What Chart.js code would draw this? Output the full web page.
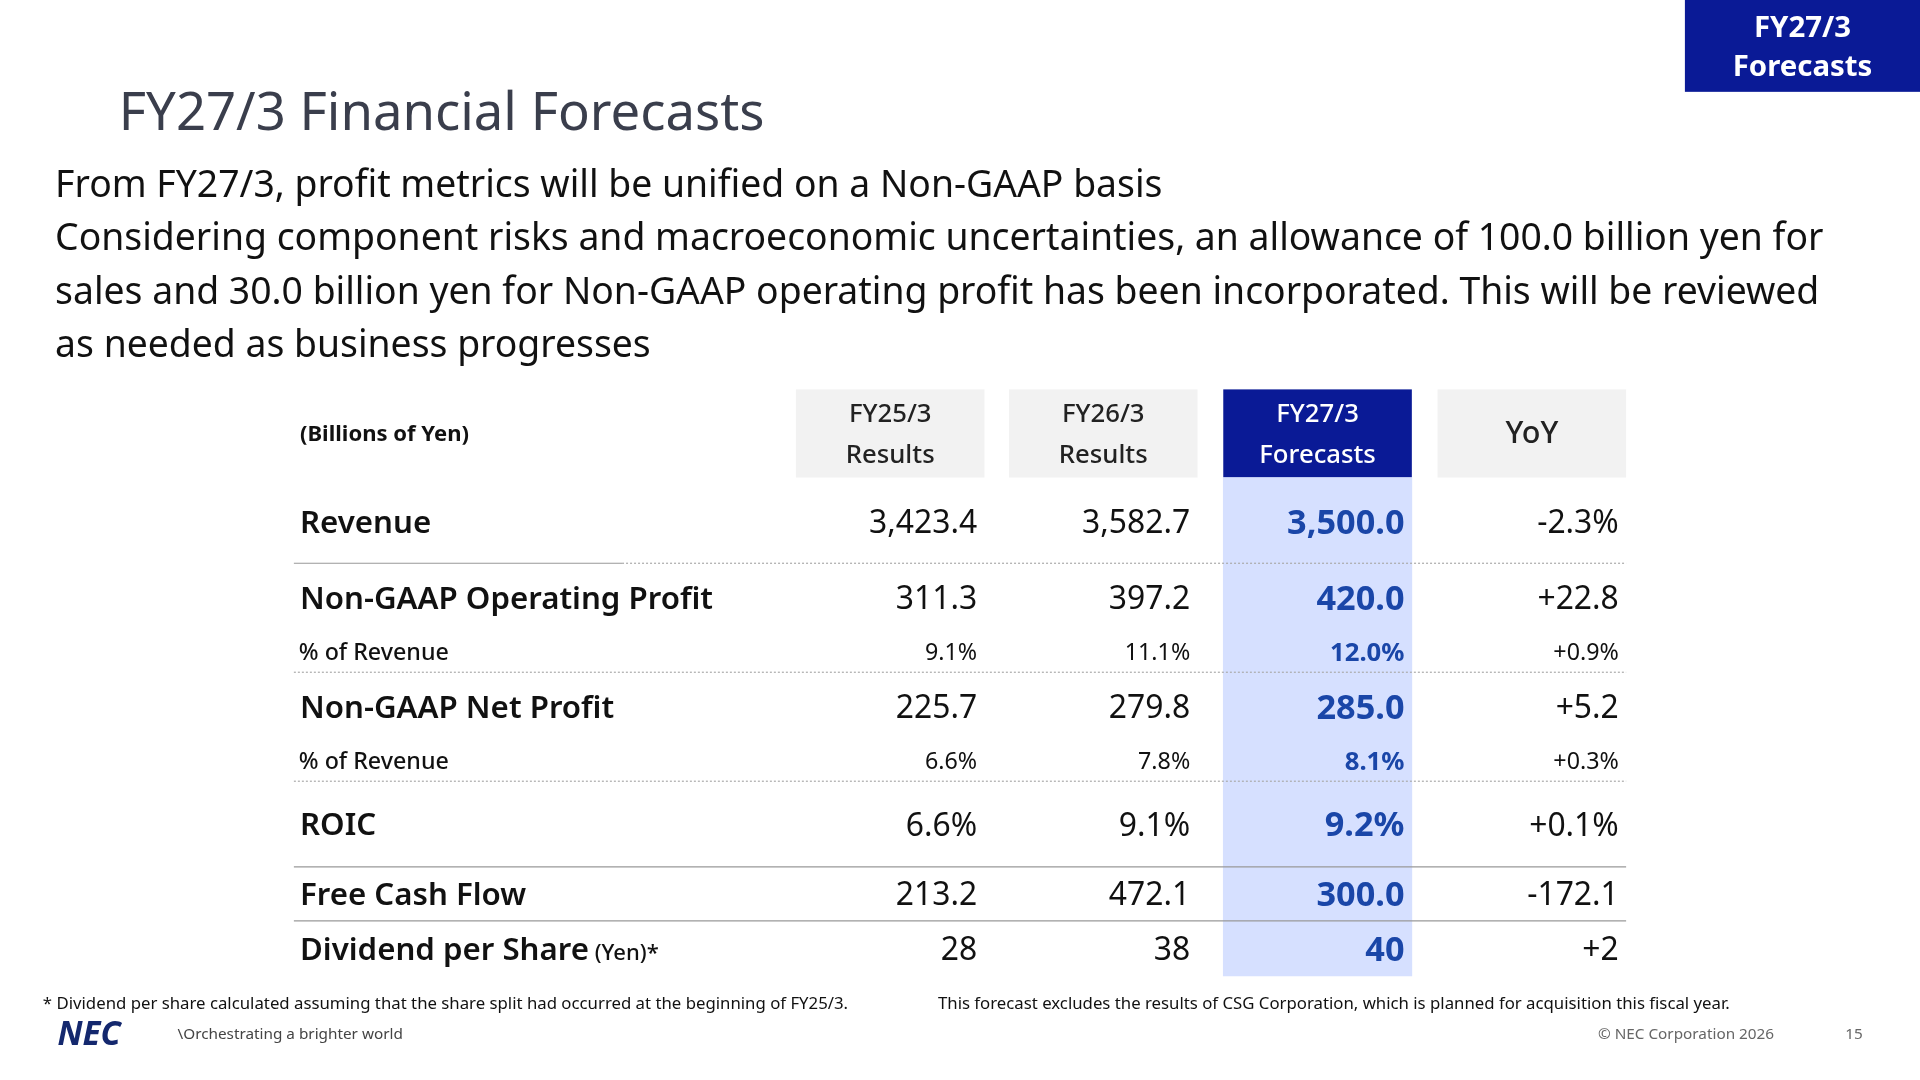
<!DOCTYPE html><html><head><meta charset="utf-8">
<script src="https://cdn.jsdelivr.net/npm/chart.js@4"></script>
<style>html,body{margin:0;padding:0;background:#fff;overflow:hidden}#w{width:1920px;height:1080px}</style></head>
<body><div id="w"><canvas id="c"></canvas></div>
<script>
const columns=['FY25/3\nResults','FY26/3\nResults','FY27/3\nForecasts','YoY'];
const rowLabels=['Revenue','Non-GAAP Operating Profit','% of Revenue','Non-GAAP Net Profit','% of Revenue','ROIC','Free Cash Flow','Dividend per Share'];
const fy25=['3,423.4','311.3','9.1%','225.7','6.6%','6.6%','213.2','28'];
const fy26=['3,582.7','397.2','11.1%','279.8','7.8%','9.1%','472.1','38'];
const fy27=['3,500.0','420.0','12.0%','285.0','8.1%','9.2%','300.0','40'];
const yoy=['-2.3%','+22.8','+0.9%','+5.2','+0.3%','+0.1%','-172.1','+2'];

// layout (reference units 1568x882)
const S=1920/1568;
const colL=[650,824,999,1174], colW=154;
const rowY=[428,490,534,579,623,675,732,777];
const small=[false,false,true,false,true,false,false,false];
const F='"Noto Sans", sans-serif';
const plugin={id:'tbl',beforeDatasetsDraw(ch){
  const c=ch.ctx,x=ch.scales.x,y=ch.scales.y;
  const X=v=>x.getPixelForValue(v),Y=v=>y.getPixelForValue(v);
  c.save();
  const font=(w,s)=>c.font=w+' '+(s*S)+'px '+F;
  c.fillStyle='#0a1a96';c.fillRect(X(1376),Y(0),X(1568)-X(1376),Y(75)-Y(0));
  c.fillStyle='#fff';font('bold',24);c.textAlign='center';c.textBaseline='middle';
  c.fillText('FY27/3',X(1472),Y(23));c.fillText('Forecasts',X(1472),Y(55));
  c.textAlign='left';c.textBaseline='alphabetic';
  c.fillStyle='#3a3e4c';font('normal',43);c.fillText('FY27/3 Financial Forecasts',X(97),Y(106));
  c.fillStyle='#111';font('normal',30.5);
  ['From FY27/3, profit metrics will be unified on a Non-GAAP basis',
   'Considering component risks and macroeconomic uncertainties, an allowance of 100.0 billion yen for',
   'sales and 30.0 billion yen for Non-GAAP operating profit has been incorporated. This will be reviewed',
   'as needed as business progresses'].forEach((t,i)=>c.fillText(t,X(45),Y(161+i*43.5)));
  columns.forEach((h,i)=>{c.fillStyle=i==2?'#0a1a96':'#f2f2f2';c.fillRect(X(colL[i]),Y(318),X(colL[i]+colW)-X(colL[i]),Y(390)-Y(318));
    c.fillStyle=i==2?'#fff':'#222';c.textAlign='center';c.textBaseline='middle';
    const p=h.split('\n');
    if(p.length>1){font('500',21);c.fillText(p[0],X(colL[i]+colW/2),Y(339));c.fillText(p[1],X(colL[i]+colW/2),Y(372));}
    else{font('500',25);c.fillText(p[0],X(colL[i]+colW/2),Y(355));}
  });
  c.textAlign='left';c.fillStyle='#111';font('bold',18);c.fillText('(Billions of Yen)',X(245),Y(355));
  c.restore();
},afterDatasetsDraw(ch){
  const c=ch.ctx,x=ch.scales.x,y=ch.scales.y;
  const X=v=>x.getPixelForValue(v),Y=v=>y.getPixelForValue(v);
  c.save();
  const font=(w,s)=>c.font=w+' '+(s*S)+'px '+F;
  const line=(x1,x2,yy,dash,col)=>{c.beginPath();c.setLineDash(dash);c.strokeStyle=col;c.lineWidth=1.2;c.moveTo(X(x1),Y(yy));c.lineTo(X(x2),Y(yy));c.stroke();};
  line(240,508,460,[],'#999');line(508,1328,460,[2,2],'#aaa');
  line(240,1328,549,[2,2],'#aaa');line(240,1328,638,[2,2],'#aaa');
  line(240,1328,708,[],'#999');line(240,1328,752,[],'#999');
  c.setLineDash([]);c.textBaseline='middle';
  rowLabels.forEach((l,i)=>{
    const sm=small[i];c.textAlign='left';c.fillStyle='#111';
    if(sm){font('500',19);c.fillText(l,X(244),Y(rowY[i]));}
    else{font('600',25.5);c.fillText(l,X(245),Y(rowY[i]));
      if(i==7){const w=c.measureText(l).width;font('500',18);c.fillText(' (Yen)*',X(245)+w,Y(rowY[i]+2));}}
    c.textAlign='right';
    [fy25,fy26,fy27,yoy].forEach((arr,j)=>{
      if(j==2){c.fillStyle='#1a46a8';font('bold',sm?21:28);}else{c.fillStyle='#111';font('normal',sm?19:26);}
      c.fillText(arr[i],X(colL[j]+colW-6),Y(rowY[i]));
    });
  });
  c.textAlign='left';c.fillStyle='#111';font('normal',13.7);
  c.fillText('* Dividend per share calculated assuming that the share split had occurred at the beginning of FY25/3.',X(35),Y(820));
  c.fillText('This forecast excludes the results of CSG Corporation, which is planned for acquisition this fiscal year.',X(766),Y(820));
  c.fillStyle='#14286e';font('bold italic',27);c.fillText('NEC',X(47),Y(846));
  c.fillStyle='#444';font('normal',12.5);c.fillText('\\Orchestrating a brighter world',X(145),Y(845));
  c.fillStyle='#666';c.fillText('© NEC Corporation 2026',X(1305),Y(845));c.fillText('15',X(1507),Y(845));
  c.restore();
}};
new Chart(document.getElementById('c'),{type:'bar',
 data:{datasets:[{data:[{x:colL[2]+colW/2,y:[390,797]}],backgroundColor:'#d6e0ff',barThickness:colW*S,borderWidth:0}]},
 options:{responsive:true,maintainAspectRatio:false,animation:false,layout:{padding:0},
  plugins:{legend:{display:false},tooltip:{enabled:false}},
  scales:{x:{type:'linear',offset:false,min:0,max:1568,display:false},y:{type:'linear',min:0,max:882,reverse:true,display:false}}},
 plugins:[plugin]});
</script></body></html>
